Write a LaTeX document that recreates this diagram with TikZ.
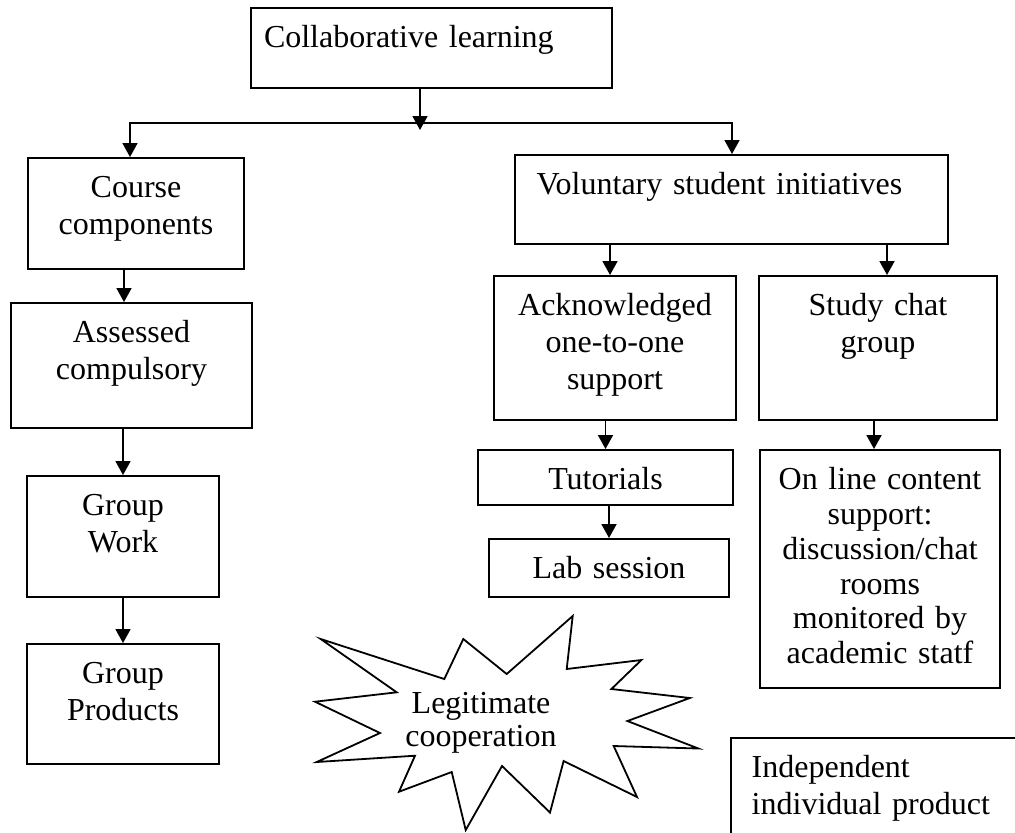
\documentclass[tikz,border=0pt]{standalone}
\usepackage{fontspec}
\setmainfont{Liberation Serif}
\usetikzlibrary{arrows.meta}

\begin{document}
\begin{tikzpicture}[x=0.5pt,y=-0.5pt,line width=0.9pt,
    >={Triangle[length=7pt,width=7.5pt]},
    box/.style={draw,inner sep=0pt,anchor=north,align=center,text height=20pt,
      font=\fontsize{16}{18.5}\selectfont},
    leftbox/.style={box,align=left}]
  \useasboundingbox (0,0) rectangle (1015,832);
  \clip (0,0) rectangle (1015,832);
  \node[leftbox,text width=167.5pt,inner xsep=6.5pt,text depth=20pt] (top) at (431.5,7) {Collaborative learning};
  % left branch
  \node[box,text width=108pt,text depth=35.5pt] (course) at (136,157) {Course\\components};
  \node[box,text width=120.5pt,text depth=42.5pt] (ass) at (131.5,302) {Assessed\\compulsory};
  \node[box,text width=96pt,text depth=40.5pt] (work) at (123,475) {Group\\Work};
  \node[box,text width=96pt,text depth=40pt] (prod) at (123,643) {Group\\Products};
  % right branch
  \node[leftbox,text width=194.8pt,inner xsep=10.85pt,text depth=24.5pt] (vol) at (731.5,154) {Voluntary student initiatives};
  \node[box,text width=121pt,text depth=52pt] (ack) at (615,275) {Acknowledged\\one-to-one\\support};
  \node[box,text width=119pt,text depth=52pt] (chat) at (878,275) {Study chat\\group};
  \node[box,text width=127.5pt,text depth=7.5pt] (tut) at (605.5,449) {Tutorials};
  \node[box,text width=120pt,text depth=9pt] (lab) at (609,538) {Lab session};
  \node[box,text width=120pt,text depth=99pt,font=\fontsize{16}{17.35}\selectfont] (online) at (880,449)
    {On line content\\support:\\discussion/chat\\rooms\\monitored by\\academic statf};
  \node[leftbox,text width=133.8pt,inner xsep=10.35pt,text depth=41.5pt] (indep) at (885.5,737) {Independent\\individual product};
  % burst
  \draw (320.7,639) -- (444.3,679) -- (463.3,639) -- (506.7,674) -- (572.7,616) -- (566.7,669)
    -- (641.4,660) -- (611.4,689) -- (689.8,698) -- (627.4,721) -- (698.4,748.5) -- (613.7,746)
    -- (637,797) -- (563.6,761) -- (550,812.5) -- (502,766) -- (465.7,830) -- (451.7,772)
    -- (399,791.7) -- (415,755.7) -- (316.7,762) -- (380,733) -- (315,701.7) -- (396.7,692.3) -- cycle;
  \node[box,draw=none,anchor=base,text width=90pt,font=\fontsize{16}{16.85}\selectfont] (coop) at (481,713) {Legitimate\\cooperation};
  % arrows
  \coordinate (jtip) at (420,130);
  \coordinate (jl) at (130,123);
  \coordinate (jr) at (732,123);
  \draw[->] (top.south -| jtip) -- (jtip);
  \draw[<->] (jl |- course.north) -- (jl) -- (jr) -- (jr |- vol.north);
  \draw[->] ([xshift=-3.75pt]ass.north |- course.south) -- ([xshift=-3.75pt]ass.north);
  \draw[->] (ass.south -| work.north) -- (work.north);
  \draw[->] (work.south) -- (prod.north);
  \draw[->] ([xshift=-2.5pt]ack.north |- vol.south) -- ([xshift=-2.5pt]ack.north);
  \draw[->] ([xshift=4.5pt]chat.north |- vol.south) -- ([xshift=4.5pt]chat.north);
  \draw[->] (ack.south -| tut.north) -- (tut.north);
  \draw[->] (tut.south -| lab.north) -- (lab.north);
  \draw[->] ([xshift=-3pt]online.north |- chat.south) -- ([xshift=-3pt]online.north);
\end{tikzpicture}
\end{document}
